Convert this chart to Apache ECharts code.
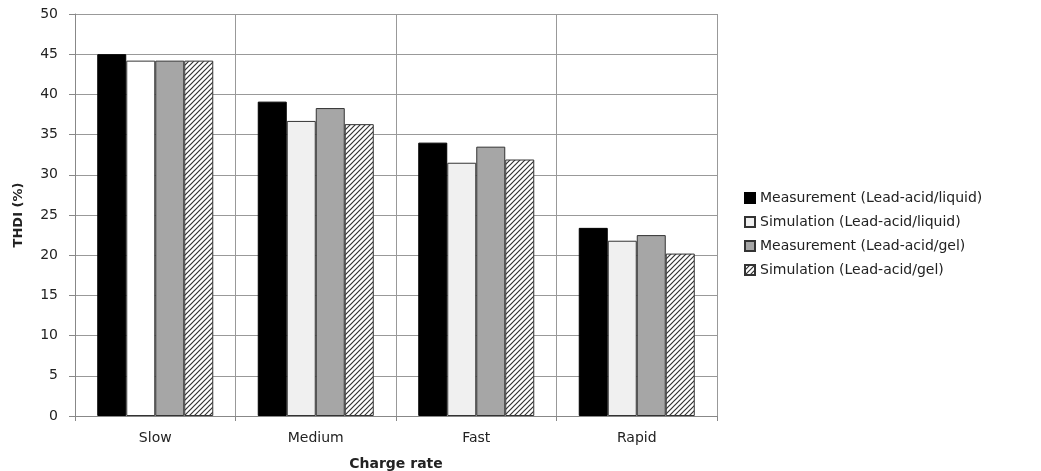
<!DOCTYPE html>
<html>
<head>
<meta charset="utf-8">
<script src="https://cdn.jsdelivr.net/npm/echarts@6/dist/echarts.min.js"></script>
<style>
  html, body { margin: 0; padding: 0; background: #fff; }
  #chart { width: 1041px; height: 471px; }
</style>
</head>
<body>
<div id="chart"></div>
<script>
const categories = ['Slow', 'Medium', 'Fast', 'Rapid'];
const seriesNames = [
  'Measurement (Lead-acid/liquid)',
  'Simulation (Lead-acid/liquid)',
  'Measurement (Lead-acid/gel)',
  'Simulation (Lead-acid/gel)'
];
const measLiquid = [45.0, 39.1, 34.0, 23.4];
const simLiquid = [44.2, 36.7, 31.5, 21.8];
const measGel = [44.2, 38.3, 33.5, 22.5];
const simGel = [44.2, 36.3, 31.9, 20.2];

// diagonal hatch pattern
const hatch = (function () {
  const c = document.createElement('canvas');
  c.width = 5; c.height = 5;
  const g = c.getContext('2d');
  g.fillStyle = '#fff';
  g.fillRect(0, 0, 5, 5);
  g.strokeStyle = '#333';
  g.lineWidth = 1.2;
  g.beginPath();
  g.moveTo(-1, 6); g.lineTo(6, -1);
  g.moveTo(-1, 1); g.lineTo(1, -1);
  g.moveTo(4, 6); g.lineTo(6, 4);
  g.stroke();
  return c;
})();

const font = "'DejaVu Sans', sans-serif";
const chart = echarts.init(document.getElementById('chart'));

function bar(name, data, color, border) {
  return {
    name: name,
    type: 'bar',
    data: data,
    barWidth: 29,
    barGap: '0%',
    itemStyle: { color: color, borderColor: border, borderWidth: 1 },
    emphasis: { disabled: true }
  };
}

const option = {
  animation: false,
  backgroundColor: '#fff',
  textStyle: { fontFamily: font },
  grid: { left: 75, right: 324, top: 14, bottom: 55, containLabel: false, outerBoundsMode: 'none' },
  legend: {
    orient: 'vertical',
    left: 739,
    top: 186,
    icon: 'rect',
    itemWidth: 10,
    itemHeight: 10,
    itemGap: 10,
    textStyle: { fontFamily: font, fontSize: 14, color: '#222' },
    data: seriesNames
  },
  xAxis: {
    type: 'category',
    data: categories,
    name: 'Charge rate',
    nameLocation: 'middle',
    nameGap: 41,
    nameTextStyle: { fontFamily: font, fontSize: 14, fontWeight: 'bold', color: '#222' },
    axisLine: { lineStyle: { color: '#888' } },
    axisTick: { show: true, length: 5, lineStyle: { color: '#888' } },
    axisLabel: { fontSize: 14, color: '#222', margin: 15 },
    splitLine: { show: true, lineStyle: { color: '#999' } }
  },
  yAxis: {
    type: 'value',
    min: 0,
    max: 50,
    interval: 5,
    name: 'THDI (%)',
    nameLocation: 'middle',
    nameGap: 50,
    nameRotate: 90,
    nameTextStyle: { fontFamily: font, fontSize: 13, fontWeight: 'bold', color: '#222' },
    axisLine: { show: true, lineStyle: { color: '#888' } },
    axisTick: { show: true, length: 6, lineStyle: { color: '#888' } },
    axisLabel: { fontSize: 14, color: '#222', margin: 17 },
    splitLine: { lineStyle: { color: '#999' } }
  },
  series: [
    bar(seriesNames[0], measLiquid, '#000', '#000'),
    bar(seriesNames[1], simLiquid.map((v, i) => i === 0 ? { value: v, itemStyle: { color: '#fff' } } : v), '#f0f0f0', '#333'),
    bar(seriesNames[2], measGel, '#a6a6a6', '#333'),
    bar(seriesNames[3], simGel, { image: hatch, repeat: 'repeat' }, '#333')
  ]
};

chart.setOption(option);
</script>
</body>
</html>
